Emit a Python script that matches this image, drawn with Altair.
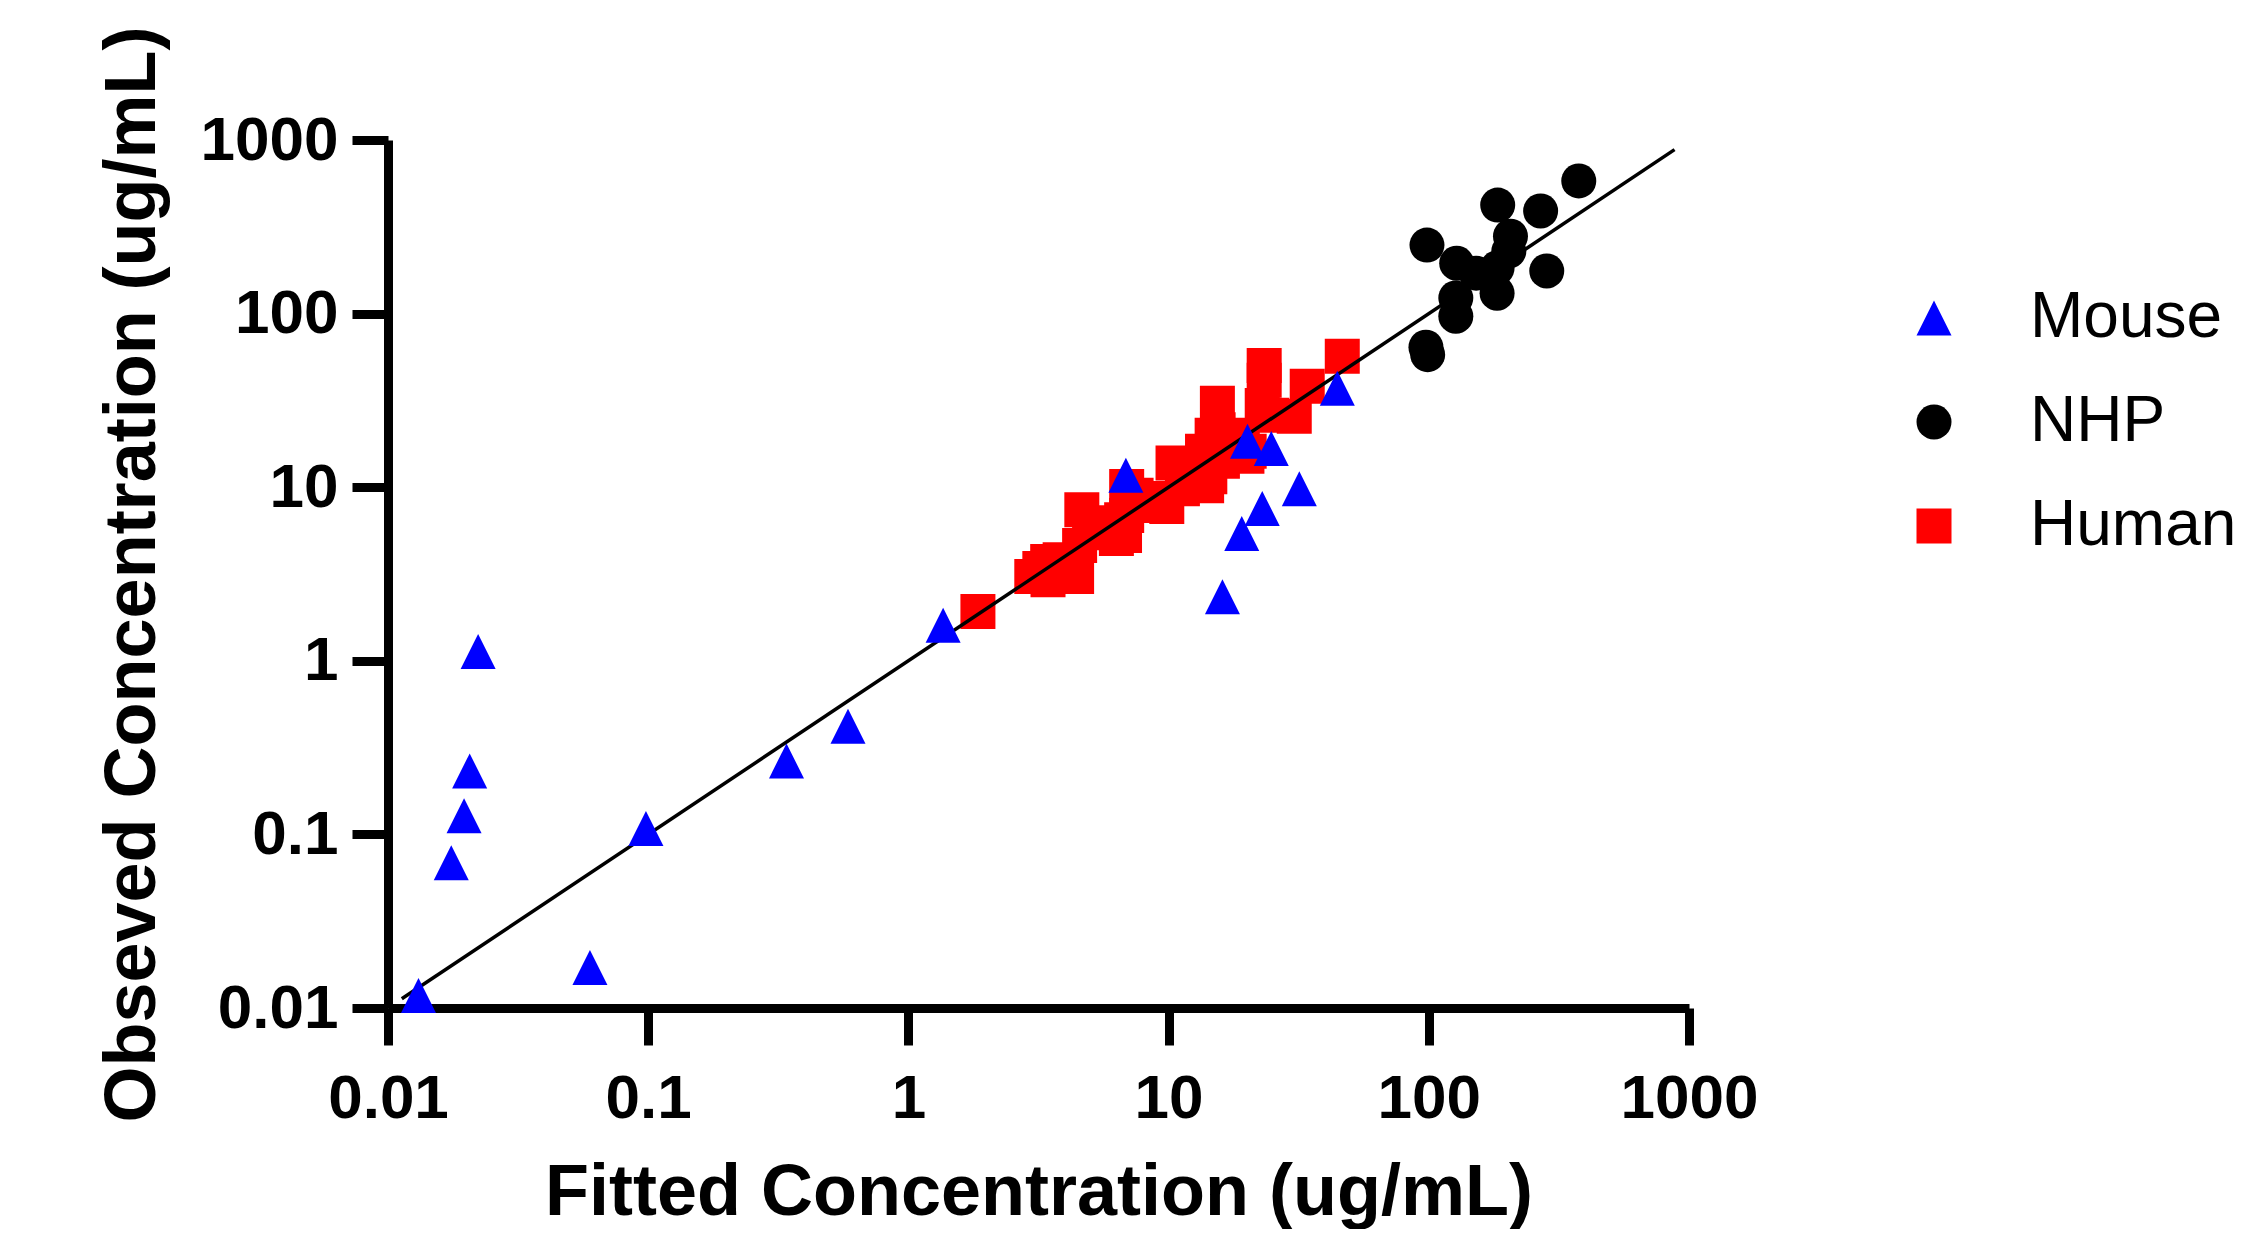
import altair as alt
import pandas as pd

species_order = ["Mouse", "NHP", "Human"]
species_colors = ["#0000FF", "#000000", "#FF0000"]
species_shapes = ["M0,-1L1,1L-1,1Z", "circle", "square"]
species_opacity = [1.0, 1.0, 0.75]
tick_values = [0.01, 0.1, 1, 10, 100, 1000]

mouse_fitted = [0.0131, 0.0222, 0.0206, 0.0196, 0.0175, 0.0597, 0.098, 0.340, 0.586,
                1.36, 6.85, 16.1, 19.1, 22.9, 20.1, 24.8, 31.8, 44.5]
mouse_observed = [0.0118, 1.13, 0.232, 0.128, 0.0686, 0.0171, 0.108, 0.265, 0.42,
                  1.60, 11.7, 2.34, 5.42, 7.55, 18.4, 16.7, 9.8, 37.2]

nhp_fitted = [98.4, 128, 184, 269, 377, 284, 206, 203, 183, 152, 183, 127, 127, 97.5, 99]
nhp_observed = [248, 195, 422, 390, 581, 176, 279, 229, 183, 171, 131, 123, 96.6, 64, 58]

human_fitted = [1.85, 2.98, 3.2, 3.43, 3.44, 3.6, 3.83, 3.92, 4.09, 4.43, 4.55, 4.64,
                4.97, 5.13, 5.93, 5.96, 6.3, 6.6, 6.77, 6.9, 6.9, 7.5, 9.2, 9.5, 9.84,
                10.4, 11.3, 12.4, 13.5, 14.0, 14.0, 14.4, 14.7, 15.4, 15.5, 16.1, 19.2,
                20.0, 20.4, 22.9, 23.3, 23.3, 24.9, 30.4, 34.1, 46.5]
human_observed = [1.92, 3.06, 3.4, 3.73, 2.93, 3.48, 3.82, 3.27, 3.73, 3.06, 4.61, 7.41,
                  5.56, 6.24, 6.03, 5.47, 5.07, 6.5, 5.27, 6.87, 10.1, 9.0, 7.85, 8.6, 7.74,
                  13.8, 9.8, 11.2, 16.1, 15.8, 10.2, 11.5, 19.9, 30.4, 21.4, 14.1, 19.9,
                  15.1, 16.1, 29.6, 41.3, 50.3, 26.0, 25.6, 38.1, 56.8]

line_fitted = [0.0113, 880]
line_observed = [0.0113, 880]

human_df = pd.DataFrame({"fitted": human_fitted, "observed": human_observed,
                         "species": ["Human"] * len(human_fitted)})
other_df = pd.DataFrame({
    "fitted": mouse_fitted + nhp_fitted,
    "observed": mouse_observed + nhp_observed,
    "species": ["Mouse"] * len(mouse_fitted) + ["NHP"] * len(nhp_fitted),
})
line_df = pd.DataFrame({"fitted": line_fitted, "observed": line_observed})

FONT = "Liberation Sans"

x_axis = alt.Axis(
    values=tick_values, format="~g", grid=False,
    title="Fitted Concentration (ug/mL)", titleFont=FONT, titleFontSize=72,
    titleFontWeight="bold", titleColor="black", titleBaseline="alphabetic", titleY=206,
    labelFont=FONT, labelFontSize=62, labelFontWeight="bold", labelColor="black",
    labelBaseline="alphabetic", labelPadding=72, labelFlush=False, labelOverlap=False,
    tickSize=37, tickWidth=9, tickColor="black", domainWidth=9, domainColor="black",
)
y_axis = alt.Axis(
    values=tick_values, format="~g", grid=False,
    title="Obseved Concentration (ug/mL)", titleFont=FONT, titleFontSize=72,
    titleFontWeight="bold", titleColor="black", titleBaseline="alphabetic",
    titleX=-234, titleY=434, titleAngle=270,
    labelFont=FONT, labelFontSize=62, labelFontWeight="bold", labelColor="black",
    labelPadding=14, labelFlush=False, labelOverlap=False,
    tickSize=36, tickWidth=9, tickColor="black", domainWidth=9, domainColor="black",
)

x_enc = alt.X("fitted:Q", scale=alt.Scale(type="log", domain=[0.01, 1000], nice=False), axis=x_axis)
y_enc = alt.Y("observed:Q", scale=alt.Scale(type="log", domain=[0.01, 1000], nice=False), axis=y_axis)

legend = alt.Legend(
    title=None, orient="none", legendX=1514, legendY=146, padding=0,
    labelFont=FONT, labelFontSize=64, labelColor="black", labelOffset=64,
    labelLimit=400, rowPadding=40, symbolSize=1225, symbolStrokeWidth=0,
)

color_enc = alt.Color("species:N", scale=alt.Scale(domain=species_order, range=species_colors), legend=legend)
shape_enc = alt.Shape("species:N", scale=alt.Scale(domain=species_order, range=species_shapes), legend=legend)
opacity_enc = alt.Opacity("species:N", scale=alt.Scale(domain=species_order, range=species_opacity), legend=legend)


def points(df):
    return alt.Chart(df).mark_point(filled=True, size=1225, strokeWidth=0).encode(
        x=x_enc, y=y_enc, color=color_enc, shape=shape_enc, opacity=opacity_enc
    )


human_layer = points(human_df)
other_layer = points(other_df)
line_layer = alt.Chart(line_df).mark_line(color="black", strokeWidth=3.5).encode(x=x_enc, y=y_enc)

chart = alt.layer(human_layer, line_layer, other_layer).properties(
    width=1301, height=868,
    autosize=alt.AutoSizeParams(type="none"),
    padding={"left": 380, "top": 132, "right": 553, "bottom": 221},
    background="white",
).configure_view(strokeWidth=0)

chart.save("out.html", embed_options={"renderer": "svg", "actions": False})
